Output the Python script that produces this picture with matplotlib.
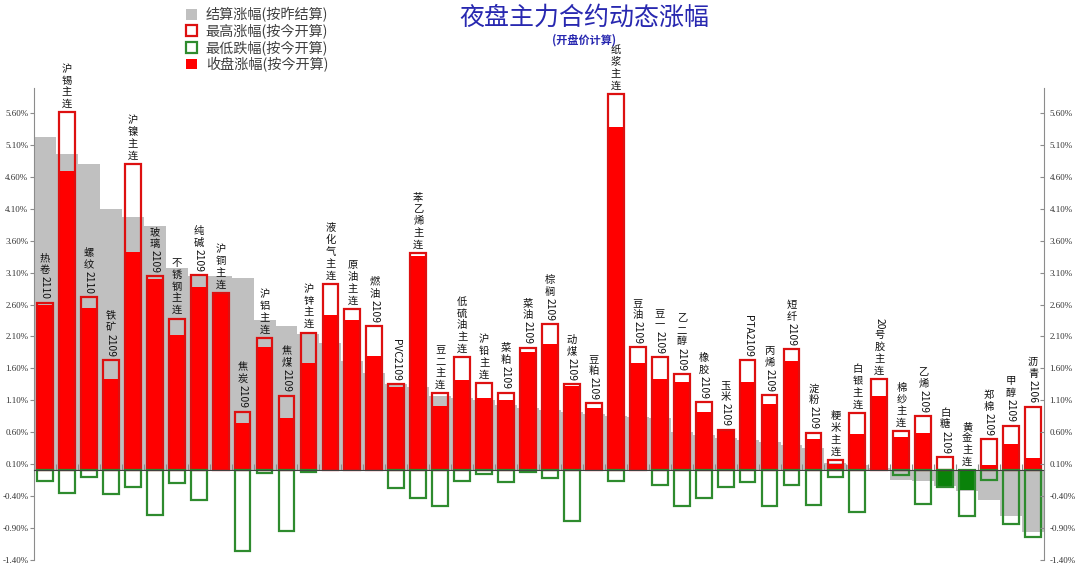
import re
import numpy as np
import matplotlib
matplotlib.use("Agg")
import matplotlib.pyplot as plt
from matplotlib.patches import Patch

plt.rcParams['font.family'] = ['Noto Sans CJK SC', 'DejaVu Sans']

names = ['热卷2110', '沪锡主连', '螺纹2110', '铁矿2109', '沪镍主连', '玻璃2109', '不锈钢主连',
         '纯碱2109', '沪铜主连', '焦炭2109', '沪铝主连', '焦煤2109', '沪锌主连', '液化气主连',
         '原油主连', '燃油2109', 'PVC2109', '苯乙烯主连', '豆二主连', '低硫油主连', '沪铅主连',
         '菜粕2109', '菜油2109', '棕榈2109', '动煤2109', '豆粕2109', '纸浆主连', '豆油2109',
         '豆一2109', '乙二醇2109', '橡胶2109', '玉米2109', 'PTA2109', '丙烯2109', '短纤2109',
         '淀粉2109', '粳米主连', '白银主连', '20号胶主连', '棉纱主连', '乙烯2109', '白糖2109',
         '黄金主连', '郑棉2109', '甲醇2109', '沥青2106']

# 结算涨幅(按昨结算)
settle = [5.22, 4.96, 4.80, 4.10, 3.97, 3.83, 3.17, 3.05, 3.04, 3.01, 2.36, 2.26, 2.13, 2.00,
          1.72, 1.52, 1.36, 1.30, 1.16, 1.14, 1.10, 1.02, 0.98, 0.95, 0.92, 0.89, 0.86, 0.84,
          0.82, 0.60, 0.55, 0.51, 0.48, 0.44, 0.40, 0.35, 0.12, 0.08, 0.04, -0.15, -0.16, -0.24,
          -0.33, -0.46, -0.71, -0.96]
# 最高涨幅(按今开算)
high = [2.63, 5.61, 2.71, 1.73, 4.80, 3.04, 2.38, 3.06, 2.78, 0.92, 2.07, 1.17, 2.16, 2.92,
        2.53, 2.26, 1.35, 3.40, 1.21, 1.77, 1.37, 1.22, 1.92, 2.29, 1.35, 1.05, 5.90, 1.93,
        1.77, 1.51, 1.07, 0.64, 1.73, 1.18, 1.90, 0.59, 0.16, 0.90, 1.43, 0.61, 0.85, 0.21,
        0.00, 0.49, 0.70, 1.00]
# 最低跌幅(按今开算)
low = [-0.17, -0.36, -0.10, -0.37, -0.26, -0.70, -0.19, -0.46, 0.00, -1.27, -0.04, -0.95,
       -0.02, 0.00, 0.00, 0.00, -0.28, -0.44, -0.56, -0.16, -0.06, -0.18, -0.02, -0.12, -0.80,
       0.00, -0.16, 0.00, -0.23, -0.56, -0.43, -0.26, -0.18, -0.56, -0.23, -0.54, -0.11, -0.65,
       0.00, -0.08, -0.52, -0.26, -0.71, -0.15, -0.84, -1.05]
# 收盘涨幅(按今开算)
close = [2.59, 4.70, 2.54, 1.43, 3.42, 3.00, 2.12, 2.88, 2.78, 0.74, 1.93, 0.82, 1.68, 2.43,
         2.36, 1.79, 1.31, 3.36, 1.01, 1.41, 1.14, 1.10, 1.86, 1.98, 1.32, 0.98, 5.39, 1.68,
         1.43, 1.39, 0.91, 0.64, 1.38, 1.04, 1.72, 0.49, 0.10, 0.57, 1.17, 0.53, 0.58, -0.26,
         -0.31, 0.08, 0.42, 0.19]

legend_labels = ['结算涨幅(按昨结算)', '最高涨幅(按今开算)', '最低跌幅(按今开算)', '收盘涨幅(按今开算)']
title = '夜盘主力合约动态涨幅'
subtitle = '(开盘价计算)'
yticks = [-1.4, -0.9, -0.4, 0.1, 0.6, 1.1, 1.6, 2.1, 2.6, 3.1, 3.6, 4.1, 4.6, 5.1, 5.6]

GRAY = '#C0C0C0'
RED = '#FF0000'
RED_EDGE = '#DD1010'
GREEN_EDGE = '#2E8B2E'
GREEN = '#0A820A'

fig = plt.figure(figsize=(10.8, 5.64), dpi=100)
ax = fig.add_axes([34 / 1080, 4.3 / 564, 1010 / 1080, 472.1 / 564])

x = np.arange(len(names))
w = 0.72

ax.bar(x, settle, width=1.0, color=GRAY, zorder=1)
close_colors = [RED if c >= 0 else GREEN for c in close]
ax.bar(x, close, width=w, color=close_colors, zorder=2)
hi_edges = [RED_EDGE if h != 0 else 'none' for h in high]
ax.bar(x, high, width=w, facecolor='none', edgecolor=hi_edges, linewidth=1.6, zorder=3)
lo_edges = [GREEN_EDGE if l != 0 else 'none' for l in low]
ax.bar(x, low, width=w, facecolor='none', edgecolor=lo_edges, linewidth=1.6, zorder=3)

ax.set_xlim(-0.5, len(names) - 0.5)
ax.set_ylim(-1.4, 6.0)

for s in ['top', 'right']:
    ax.spines[s].set_visible(False)
ax.spines['left'].set_color('#8C8C8C')
ax.spines['bottom'].set_position(('data', 0))
ax.spines['bottom'].set_color('#404040')
ax.spines['bottom'].set_linewidth(0.8)
ax.spines['bottom'].set_zorder(4)

ax.set_xticks(np.arange(0.5, len(names) - 1, 1))
ax.set_xticklabels([])
ax.tick_params(axis='x', direction='in', length=4, color='#8C8C8C')

ylabels = [f'{v:.2f}%' for v in yticks]
ax.set_yticks(yticks)
ax.set_yticklabels(ylabels)
ax.tick_params(axis='y', direction='out', length=3, pad=1, color='#8C8C8C',
               labelsize=6.5, labelcolor='#333333')
for t in ax.get_yticklabels():
    t.set_family(['Liberation Serif', 'DejaVu Sans'])

ax2 = ax.twinx()
ax2.set_ylim(ax.get_ylim())
ax2.set_yticks(yticks)
ax2.set_yticklabels(ylabels)
for s in ['top', 'left', 'bottom']:
    ax2.spines[s].set_visible(False)
ax2.spines['right'].set_color('#8C8C8C')
ax2.tick_params(axis='y', direction='in', length=3, pad=4, color='#8C8C8C',
                labelsize=6.5, labelcolor='#333333')
for t in ax2.get_yticklabels():
    t.set_family(['Liberation Serif', 'DejaVu Sans'])


def vlabel(xi, yv, s):
    runs = re.findall(r'[A-Za-z0-9]+|[^A-Za-z0-9]+', s)
    prev = None
    for run in reversed(runs):
        if run.isascii():
            txt, rot = run, 270
        else:
            txt, rot = '\n'.join(run), 0
        common = dict(textcoords='offset points', ha='center', va='bottom',
                      rotation=rot, fontsize=7.4, linespacing=1.22, color='#111111',
                      zorder=6, annotation_clip=False)
        if prev is None:
            t = ax.annotate(txt, xy=(xi, yv), xycoords='data', xytext=(0, 2.5), **common)
        else:
            t = ax.annotate(txt, xy=(0.5, 1), xycoords=prev, xytext=(0, 0.8), **common)
        prev = t


for i, n in enumerate(names):
    top = max(high[i], close[i], 0)
    vlabel(x[i], top, n)

fig.text(584 / 1080, 1 - 18 / 564, title, ha='center', va='center', fontsize=18,
         color='#2828B0')
fig.text(584 / 1080, 1 - 40 / 564, subtitle, ha='center', va='center', fontsize=8,
         color='#2828B0', fontweight='bold')

handles = [Patch(facecolor=GRAY, edgecolor='none'),
           Patch(facecolor='white', edgecolor=RED_EDGE, linewidth=1.6),
           Patch(facecolor='white', edgecolor=GREEN_EDGE, linewidth=1.6),
           Patch(facecolor=RED, edgecolor='none')]
leg = fig.legend(handles, legend_labels, loc='upper left', bbox_to_anchor=(176 / 1080, 1 + 3 / 564),
                 frameon=False, fontsize=10.2, handlelength=0.8, handleheight=0.8,
                 handletextpad=0.6, labelspacing=0.12, borderpad=0.2)
for t in leg.get_texts():
    t.set_color('#404040')

fig.savefig('out.png', dpi=100)
